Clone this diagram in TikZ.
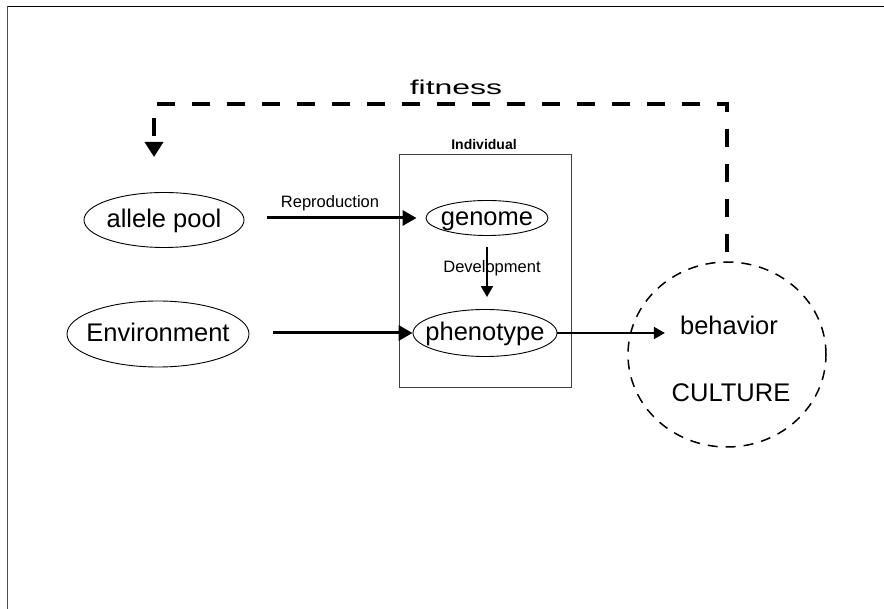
\documentclass[tikz,border=0pt]{standalone}
\usepackage{fontspec}
\setmainfont{Liberation Sans}
\usetikzlibrary{arrows.meta,shapes.geometric}
% text of fixed-size ellipses takes no width of its own
\newcommand{\inbubble}[1]{\makebox[0pt]{#1}}
\begin{document}
\begin{tikzpicture}[x=1pt,y=-1pt,
  bubble/.style={draw,ellipse,line width=0.9pt,inner sep=0pt,
    text height=20pt,text depth=4pt,
    font=\fontsize{25.5}{30}\selectfont},
  biglabel/.style={font=\fontsize{25.5}{30}\selectfont,inner sep=0pt,anchor=base},
  smalllabel/.style={font=\fontsize{16.5}{20}\selectfont,inner sep=0pt,anchor=base},
  heavy/.style={line width=3pt,-{Triangle[length=14pt,width=15pt]}},
  light/.style={line width=1.8pt,-{Triangle[length=11pt,width=12pt]}},
  feedback/.style={line width=3.5pt,dash pattern=on 18pt off 17pt,
    -{Triangle[length=15pt,width=18pt]}},
]
\useasboundingbox (0,0) rectangle (884,609);

% frame edges
\draw[line width=1.5pt] (7,6.5) -- (884,6.5);
\draw[line width=1.2pt,black!70] (7.3,6) -- (7.3,609);

% the individual
\node[draw=black!75,line width=1pt,minimum width=172pt,minimum height=233pt,inner sep=0pt]
  (indiv) at (485,271.5) {};
\node[font=\bfseries\fontsize{14}{16}\selectfont,inner sep=0pt,anchor=base]
  (indivlabel) at (484,150) {Individual};

% ellipses
\node[bubble,minimum width=160pt,minimum height=55pt] (allele) at (164,220) {\inbubble{allele pool}};
\node[bubble,minimum width=182pt,minimum height=66pt] (env) at (158,334) {\inbubble{Environment}};
\node[bubble,minimum width=122pt,minimum height=35pt] (genome) at (487,218) {\inbubble{genome}};
\node[bubble,minimum width=144pt,minimum height=47pt] (pheno) at (485,333) {\inbubble{phenotype}};

% culture
\node[draw,ellipse,line width=1.5pt,dash pattern=on 10pt off 8pt,
  minimum width=198pt,minimum height=185pt,inner sep=0pt] (culture) at (727,354.5) {};
\node[biglabel] (behav) at (729,335) {behavior};
\node[biglabel] (cult) at (731,402) {CULTURE};

% labels
\node[smalllabel] (repro) at (330,208) {Reproduction};
\node[smalllabel] (devel) at (492,273) {Development};
\node[font=\fontsize{20}{24}\selectfont,inner sep=0pt,anchor=base]
  (fit) at (456,95) {\scalebox{1.6}[1]{fitness}};

% connectors
\draw[heavy,shorten <=23pt,shorten >=9pt] (allele.east |- genome.west) -- (genome.west);
\draw[heavy,shorten <=24pt] (env.east |- pheno.west) -- (pheno.west);
\draw[light,shorten <=11pt,shorten >=12pt] (genome.south) -- (genome.south |- pheno.north);
\draw[light,shorten >=15pt] (pheno.east) -- (behav.west |- pheno.east);

% fitness feedback
\coordinate (fitL) at (154,104);
\coordinate (fitin) at (154,157);
\draw[feedback,shorten <=9pt] (culture.north) |- (fitL) -- (fitin);
\end{tikzpicture}
\end{document}
